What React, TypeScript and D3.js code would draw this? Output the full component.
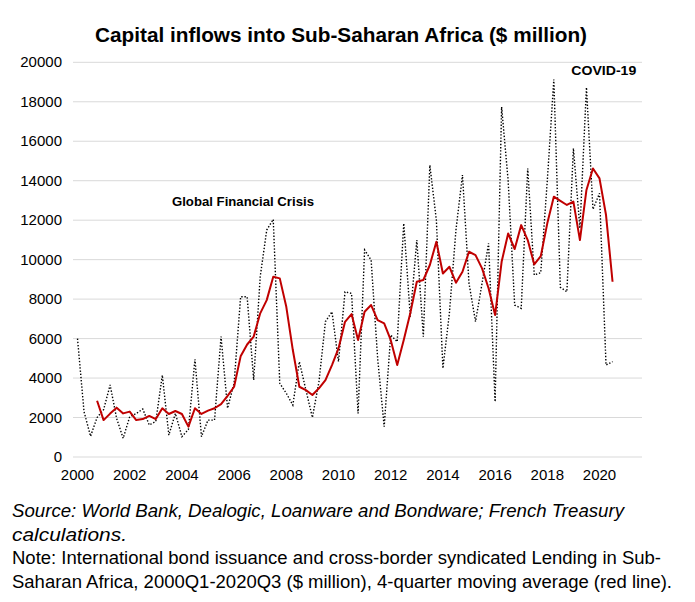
import React from "react";
import * as d3 from "d3";

const startYear = 2000;

// Quarterly capital inflows ($ million), 2000Q1-2020Q3 (dotted black line)
const inflows = [
  6000, 2300, 1050, 2000, 2400, 3650, 1950, 950, 2040, 2200,
  2430, 1620, 1800, 4150, 1110, 2210, 1030, 1400, 4950, 1030,
  1870, 1870, 6100, 2470, 3750, 8120, 8120, 3900, 9130, 11500,
  12040, 3730, 3230, 2630, 4830, 3400, 2000, 3800, 6860, 7360,
  4830, 8370, 8290, 2210, 10490, 9980, 5000, 1540, 6180, 5840,
  11840, 7110, 10990, 6100, 14790, 12000, 4490, 7300, 11500, 14290,
  8800, 6860, 8800, 10830, 2800, 17740, 14000, 7700, 7530, 14620,
  9220, 9340, 14000, 19130, 8600, 8370, 15640, 11590, 18730, 12550,
  13360, 4660, 4830,
];

// 4-quarter moving average (red line), starting 2000Q4
const movingAverage = [
  2850, 1870, 2200, 2500, 2210, 2300, 1870, 1920, 2080, 1920,
  2470, 2180, 2330, 2180, 1540, 2470, 2180, 2350, 2470, 2680,
  3100, 3560, 5100, 5700, 6100, 7280, 7950, 9130, 9050, 7610,
  5420, 3560, 3390, 3140, 3480, 3900, 4660, 5500, 6850, 7240,
  5930, 7360, 7700, 6940, 6770, 5930, 4660, 5930, 7280, 8880,
  8970, 9730, 10910, 9300, 9640, 8830, 9390, 10400, 10230, 9560,
  8550, 7190, 9890, 11330, 10540, 11750, 10990, 9760, 10180, 11840,
  13190, 12980, 12770, 12940, 10990, 13530, 14620, 14120, 12260, 8880,
];
const maStartIndex = 3;

const yTicks = [0, 2000, 4000, 6000, 8000, 10000, 12000, 14000, 16000, 18000, 20000];
const xTicks = [2000, 2002, 2004, 2006, 2008, 2010, 2012, 2014, 2016, 2018, 2020];

const title = "Capital inflows into Sub-Saharan Africa ($ million)";
const annotations = [
  { label: "Global Financial Crisis", year: 2003.62, value: 12700, width: 142 },
  { label: "COVID-19", year: 2018.92, value: 19350, width: 65 },
];
const footerLines = [
  { text: "Source: World Bank, Dealogic, Loanware and Bondware; French Treasury", italic: true, width: 612 },
  { text: "calculations.", italic: true, width: 115 },
  { text: "Note: International bond issuance and cross-border syndicated Lending in Sub-", italic: false, width: 649 },
  { text: "Saharan Africa, 2000Q1-2020Q3 ($ million), 4-quarter moving average (red line).", italic: false, width: 660 },
];

export default function App() {
  const W = 695, H = 602;
  const x = d3.scaleLinear().domain([2000, 2020]).range([77.5, 599.5]);
  const y = d3.scaleLinear().domain([0, 20000]).range([457, 62.3]);
  const qYear = (i: number) => startYear + i / 4;

  const rawLine = d3.line<number>().x((_, i) => x(qYear(i))).y((d) => y(d));
  const maLine = d3.line<number>().x((_, i) => x(qYear(i + maStartIndex))).y((d) => y(d));

  const font = "'Liberation Sans', Arial, sans-serif";

  return (
    <div style={{ position: "absolute", left: 0, top: 0 }}>
      <svg width={W} height={H} style={{ display: "block", background: "#fff" }} fontFamily={font}>
        <rect width={W} height={H} fill="#fff" />
        <text x={95} y={42} fontWeight="bold" fontSize={20} fill="#000" textLength={492} lengthAdjust="spacingAndGlyphs">
          {title}
        </text>
        {yTicks.map((t) => (
          <g key={t}>
            <line x1={73} x2={642} y1={y(t)} y2={y(t)} stroke="#d9d9d9" strokeWidth={1} />
            <text x={62} y={y(t) + 5} textAnchor="end" fontSize={15} fill="#000">
              {t}
            </text>
          </g>
        ))}
        {xTicks.map((t) => (
          <text key={t} x={x(t)} y={480} textAnchor="middle" fontSize={15} fill="#000">
            {t}
          </text>
        ))}
        <path d={rawLine(inflows) || ""} fill="none" stroke="#000" strokeWidth={1.4} strokeDasharray="1.4 1.8" />
        <path d={maLine(movingAverage) || ""} fill="none" stroke="#c00000" strokeWidth={2} strokeLinejoin="round" />
        {annotations.map((a) => (
          <text key={a.label} x={x(a.year)} y={y(a.value)} fontWeight="bold" fontSize={13.5} fill="#000"
            textLength={a.width} lengthAdjust="spacingAndGlyphs">
            {a.label}
          </text>
        ))}
        {footerLines.map((l, i) => (
          <text
            key={i}
            x={12}
            y={517 + i * 23.5}
            fontSize={17.5}
            fontStyle={l.italic ? "italic" : "normal"}
            fill="#000"
            textLength={l.width}
            lengthAdjust="spacingAndGlyphs"
          >
            {l.text}
          </text>
        ))}
      </svg>
    </div>
  );
}
